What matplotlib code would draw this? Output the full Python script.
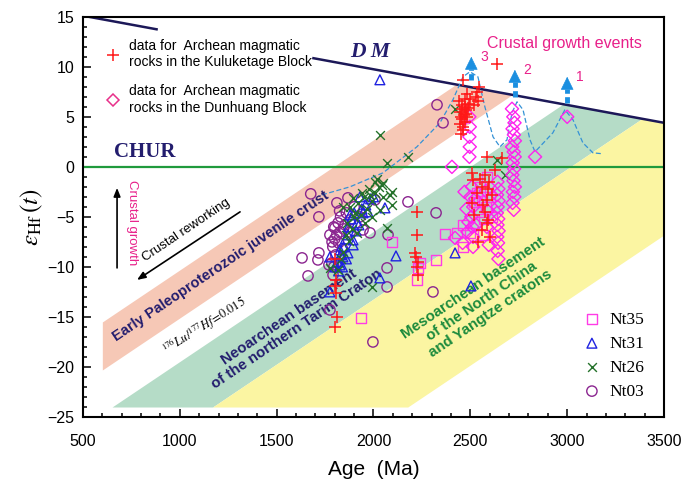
import numpy as np
import matplotlib.pyplot as plt
from matplotlib import font_manager
from matplotlib.lines import Line2D

plt.rcParams['mathtext.fontset'] = 'stix'
installed = {f.name for f in font_manager.fontManager.ttflist}
SANS = 'Liberation Sans'
NARROW = 'Liberation Sans Narrow' if 'Liberation Sans Narrow' in installed else SANS
SERIF = 'Liberation Serif'
plt.rcParams['font.family'] = SANS

# ---- zircon Hf data (age in Ma, epsilon Hf(t)) ----
# Kuluketage Block, Archean magmatic rocks
kul_age = [2462, 2483, 2534, 2540, 2528, 2545, 2457, 2445, 2455, 2462, 2450, 2470,
           2480, 2490, 2465, 2440, 2500, 2475, 2460, 2520, 2445, 2485, 2495, 2455,
           2470, 2478, 2452, 2637,
           2586, 2663, 2508, 2575, 2596, 2560, 2513, 2534, 2586, 2508, 2575, 2591,
           2586, 2520, 2560, 2600, 2540, 2610, 2565, 2550, 2625, 2590,
           2225, 2225, 2214, 2219, 2230, 2225, 2230,
           1801, 1806, 1801, 1806, 1811, 1801]
kul_eps = [8.7, 7.3, 7.5, 6.6, 7.0, 8.0, 6.2, 5.5, 4.8, 4.0, 3.3, 6.0,
           5.7, 5.9, 5.2, 6.6, 6.8, 4.5, 3.7, 6.2, 4.3, 5.0, 6.3, 5.8,
           6.8, 5.3, 5.0, 10.3,
           1.0, 0.9, -0.6, -0.8, -1.5, -2.0, -1.3, -2.6, -3.3, -3.6, -4.5, -5.3,
           -5.6, -4.8, -6.3, -7.0, -7.5, -2.8, -3.8, -1.2, -0.3, -2.2,
           -4.5, -6.8, -8.6, -9.0, -9.5, -10.0, -10.8,
           -9.2, -11.3, -11.9, -12.6, -15.0, -16.0]

# Dunhuang Block, Archean magmatic rocks
dun_age = [2495, 2497, 2495, 2497, 2495, 2405, 2834, 3000,
           2715, 2722, 2728, 2718, 2725, 2730, 2716, 2724, 2729, 2719, 2726,
           2717, 2723, 2730, 2720, 2727, 2718, 2724,
           2640, 2645, 2638, 2646, 2641, 2637, 2644, 2640, 2646, 2639, 2643,
           2641, 2645,
           2508, 2500, 2515, 2505, 2510, 2514, 2514, 2421, 2470, 2480, 2490,
           2530, 2525, 2485, 2460, 2580, 2590, 2585, 2595]
dun_eps = [5.0, 4.0, 3.0, 2.0, 1.0, 0.0, 1.0, 5.0,
           5.8, 5.0, 4.4, 3.8, 3.2, 2.6, 2.0, 1.5, 1.0, 0.4, -0.2,
           -0.8, -1.4, -2.0, -2.5, -3.0, -3.6, -4.3,
           -1.5, -2.2, -2.8, -3.4, -4.0, -4.6, -5.2, -5.8, -6.4, -7.0, -7.6,
           -8.4, -9.2,
           -2.0, -3.0, -4.0, -5.0, -6.0, -7.0, -8.0, -7.1, -2.5, -4.2, -5.5,
           -5.8, -3.2, -6.5, -7.6, -2.4, -4.4, -6.0, -7.8]

# sample Nt35
nt35_age = [2095, 2369, 2431, 2462, 2565, 2498, 2323, 2230, 2225, 2462, 1935,
            2586, 2534, 2560, 2545, 2600, 2570, 2610, 2520, 2550, 2580, 2240]
nt35_eps = [-7.5, -6.7, -6.6, -5.8, -6.8, -6.6, -9.3, -10.1, -11.3, -8.0, -15.1,
            -1.0, -2.6, -3.4, -4.5, -3.0, -5.2, -5.0, -3.5, -2.0, -4.0, -9.6]

# sample Nt31
nt31_age = [2033, 1930, 2059, 1879, 1868, 1827, 1775, 1868, 1827, 2116, 2033,
            1775, 1915, 1946, 1894, 1971, 2421, 2503, 1842,
            1800, 1815, 1830, 1845, 1855, 1870, 1885, 1900, 1910, 1925, 1940,
            1960, 1985, 1895, 1860, 1820, 1840, 2000]
nt31_eps = [8.7, -3.0, -4.1, -4.8, -6.8, -8.3, -9.0, -8.6, -9.8, -8.9, -11.1,
            -12.5, -5.6, -4.6, -7.3, -4.5, -8.6, -11.9, -9.0,
            -10.0, -9.5, -8.8, -8.0, -7.2, -6.0, -5.2, -4.6, -6.4, -5.8, -4.2,
            -3.8, -3.2, -7.8, -9.2, -10.4, -10.0, -3.0]

# sample Nt26
nt26_age = [2008, 2044, 2085, 1982, 1904, 1863, 1956, 1915, 2033, 2095, 2070,
            1775, 1817, 1992, 1842, 1894, 1940, 2049, 2095, 2033, 2178, 2070,
            2421, 2637, 2679,
            1880, 1900, 1920, 1935, 1950, 1965, 1975, 1990, 2010, 2020, 2030,
            1860, 1875, 1890, 1845, 1830, 2050, 1990]
nt26_eps = [-1.5, -1.8, -2.8, -2.8, -4.6, -5.6, -5.6, -6.6, -4.3, -3.8, -6.1,
            -10.1, -10.3, -12.0, -4.0, -3.1, -2.6, -1.6, -2.5, 3.2, 1.0, 0.4,
            5.8, 0.7, -0.8,
            -4.0, -5.0, -3.6, -4.8, -3.0, -4.2, -2.2, -3.4, -2.6, -1.2, -2.0,
            -6.8, -7.4, -6.2, -8.5, -9.2, -3.0, -5.0]

# sample Nt03
nt03_age = [1676, 1718, 1868, 1811, 2178, 1631, 1713, 1662, 1718, 1786, 1801,
            1817, 1827, 1853, 1775, 2075, 2070, 2070, 1791, 1775, 1997, 1879,
            1946, 1982, 2008, 1930, 2328, 2359, 2323, 2307,
            1790, 1800, 1810, 1795, 1820, 1805, 1785, 1830, 1845, 1860, 1840,
            1825, 1900, 1880, 1795, 1770]
nt03_eps = [-2.7, -5.0, -3.1, -3.6, -3.5, -9.1, -9.3, -10.9, -8.6, -7.5, -6.1,
            -5.6, -6.5, -5.8, -6.8, -6.8, -10.1, -12.0, -10.8, -14.3, -17.5, -5.3,
            -6.3, -6.6, -3.3, -5.0, 6.2, 4.4, -4.6, -12.5,
            -8.0, -7.2, -6.8, -6.0, -7.6, -8.8, -9.6, -5.0, -6.2, -4.6, -8.2,
            -4.4, -4.0, -6.5, -10.0, -9.8]

# depleted mantle and crustal evolution bands (176Lu/177Hf = 0.015)
dm_age = [500, 3500]
dm_eps = [15.1, 4.4]
dm_gap = (880, 1690)
band_slope = 0.013          # epsilon units per Ma
pink_edges = (-20.3, -15.5)  # epsilon at 600 Ma, lower / upper
green_edges = (-31.4, -24.65)
yellow_edges = (-44.5, -31.4)
band_floor = -24

# crustal growth curve and events
curve_age = [1734, 1878, 2049, 2224, 2343, 2410, 2462, 2498, 2539, 2575, 2617,
             2653, 2689, 2715, 2741, 2772, 2808, 2834, 2926, 2988, 3030, 3081,
             3133, 3185]
curve_eps = [-2.8, -2.0, -0.6, 2.0, 4.4, 6.7, 9.0, 9.5, 9.0, 6.0, 3.0,
             2.0, 2.7, 5.4, 6.5, 5.7, 2.7, 1.5, 3.4, 5.7, 4.7, 2.4,
             1.4, 1.3]
event_age = [3000, 2730, 2505]
event_base = [6.4, 7.0, 8.7]
event_tip = [9.0, 9.7, 11.0]
event_label = ['1', '2', '3']

NAVY = '#231d6e'
MAGENTA = '#e8208a'
SKY = '#1b8fe0'

fig = plt.figure(figsize=(6.84, 4.92), dpi=100)
ax = fig.add_axes([0.1213, 0.1524, 0.8495, 0.8136])

t = np.linspace(500, 3500, 3001)
dm = np.interp(t, dm_age, dm_eps)


def edge(e600):
    return e600 + band_slope * (t - 600)


lo = edge(pink_edges[0])
hi = np.minimum(edge(pink_edges[1]), dm)
ax.fill_between(t, lo, hi, where=(t >= 600) & (hi > lo), color='#f6c8b6',
                lw=0, interpolate=True, zorder=1)
for e_lo, e_hi, col in [(green_edges[0], green_edges[1], '#b5dcc7'),
                        (yellow_edges[0], yellow_edges[1], '#fbf5a2')]:
    lo = np.maximum(edge(e_lo), band_floor)
    hi = np.minimum(edge(e_hi), dm)
    ax.fill_between(t, lo, hi, where=hi > lo, color=col, lw=0,
                    interpolate=True, zorder=1)

ax.axhline(0, color='#1f9a3c', lw=1.6, zorder=2)
dm_line = np.where((t > dm_gap[0]) & (t < dm_gap[1]), np.nan, dm)
ax.plot(t, dm_line, color='#1c1858', lw=1.8, zorder=2)

ax.plot(curve_age, curve_eps, color='#3592d6', lw=0.9, ls=(0, (4, 2)), zorder=3)

for age, base, tip, lab in zip(event_age, event_base, event_tip, event_label):
    neck = tip - 1.2
    ax.plot([age, age], [base, neck], color=SKY, lw=3.5, ls=(0, (1.3, 0.7)),
            solid_capstyle='butt', zorder=4)
    ax.annotate('', xy=(age, tip), xytext=(age, neck),
                arrowprops=dict(arrowstyle='-|>,head_width=0.42,head_length=0.85',
                                color=SKY, lw=0.5, shrinkA=0, shrinkB=0), zorder=4)
    ax.text(age + 45, tip - 0.4, lab, color=MAGENTA, fontsize=10, zorder=4)

kw = dict(lw=1.0, zorder=5)
h03 = ax.scatter(nt03_age, nt03_eps, s=55, marker='o', facecolors='none',
                 edgecolors='#8b2590', **kw)
h31 = ax.scatter(nt31_age, nt31_eps, s=50, marker='^', facecolors='none',
                 edgecolors='#1f22e0', **kw)
h26 = ax.scatter(nt26_age, nt26_eps, s=40, marker='x', color='#24712a', **kw)
h35 = ax.scatter(nt35_age, nt35_eps, s=50, marker='s', facecolors='none',
                 edgecolors='#ff3ce6', **kw)
ax.scatter(dun_age, dun_eps, s=45, marker='D', facecolors='none',
           edgecolors='#ff22ee', lw=1.0, zorder=6)
ax.scatter(kul_age, kul_eps, s=65, marker='+', color='#ff1818', lw=1.1, zorder=7)

# annotations
ax.text(1982, 11.5, 'D M', color=NAVY, fontsize=15.5, fontweight='bold',
        fontstyle='italic', family=SERIF, ha='center', va='center')
ax.text(820, 1.5, 'CHUR', color=NAVY, fontsize=15, fontweight='bold',
        family=SERIF, ha='center', va='center')
ax.text(2988, 12.3, 'Crustal growth events', color=MAGENTA, fontsize=11.5,
        ha='center', va='center')
ax.text(753, -5.6, 'Crustal growth', color=MAGENTA, fontsize=9.5, rotation=-90,
        ha='center', va='center')
ax.annotate('', xy=(676, -2.1), xytext=(676, -10.1),
            arrowprops=dict(arrowstyle='-|>,head_width=0.2,head_length=0.5',
                            color='black', lw=1.2, shrinkA=0, shrinkB=0))
ax.text(1032, -6.3, 'Crustal reworking', fontsize=9.5, rotation=34,
        ha='center', va='center')
ax.annotate('', xy=(779, -11.3), xytext=(1311, -4.5),
            arrowprops=dict(arrowstyle='-|>,head_width=0.2,head_length=0.5',
                            color='black', lw=1.2, shrinkA=0, shrinkB=0))
ax.text(1213, -9.9, 'Early Paleoproterozoic juvenile crust', color=NAVY,
        fontsize=10.5, fontweight='bold', rotation=34, ha='center', va='center')
ax.text(1130, -15.9, r'$^{176}Lu/^{177}Hf\!=\!0.015$', fontsize=9, rotation=32,
        ha='center', va='center')
ax.text(1585, -15.6, 'Neoarchean basement\nof the northern Tarim Craton',
        color=NAVY, fontsize=10.8, fontweight='bold', rotation=34, ha='center',
        va='center', linespacing=1.05)
ax.text(2560, -13.4, 'Mesoarchean basement\nof the North China\nand Yangtze cratons',
        color='#1b8a3c', fontsize=10.8, fontweight='bold', rotation=34,
        ha='center', va='center', linespacing=1.15)

# legends
block_handles = [Line2D([], [], ls='none', marker='+', color='#ff1818', ms=9, mew=1.1),
                 Line2D([], [], ls='none', marker='D', mfc='none', mec='#e8308a',
                        ms=6.5, mew=1.1)]
leg1 = ax.legend(block_handles,
                 ['data for  Archean magmatic\nrocks in the Kuluketage Block',
                  'data for  Archean magmatic\nrocks in the Dunhuang Block'],
                 loc='upper left', bbox_to_anchor=(0.028, 0.962), frameon=False,
                 fontsize=10, handlelength=1.0, handletextpad=0.65,
                 labelspacing=1.1, borderpad=0)
ax.add_artist(leg1)
ax.legend([h35, h31, h26, h03], ['Nt35', 'Nt31', 'Nt26', 'Nt03'],
          loc='upper left', bbox_to_anchor=(0.846, 0.285), frameon=False,
          prop={'family': SERIF, 'size': 12.5}, handlelength=1.0,
          handletextpad=0.5, labelspacing=0.45, borderpad=0, scatterpoints=1)

ax.set_xlim(500, 3500)
ax.set_ylim(-25, 15)
ax.set_xticks(np.arange(500, 3501, 500))
ax.set_xticks(np.arange(500, 3501, 100), minor=True)
ax.set_yticks(np.arange(-25, 16, 5))
ax.set_yticks(np.arange(-25, 16, 1), minor=True)
ax.tick_params(which='both', direction='in', top=False, right=False, width=1.1)
ax.tick_params(which='major', length=6, labelsize=11.5)
ax.tick_params(which='minor', length=3)
ax.tick_params(axis='x', pad=12)
ax.tick_params(axis='y', pad=6)
for lab in ax.get_xticklabels() + ax.get_yticklabels():
    lab.set_family(NARROW)
for sp in ax.spines.values():
    sp.set_linewidth(1.5)

ax.set_xlabel('Age  (Ma)', fontsize=15, family=NARROW, labelpad=8)
ax.set_ylabel(r'$\varepsilon_{\rm Hf}\,(t)$', fontsize=18, labelpad=2)

fig.savefig('out.png', dpi=100)
